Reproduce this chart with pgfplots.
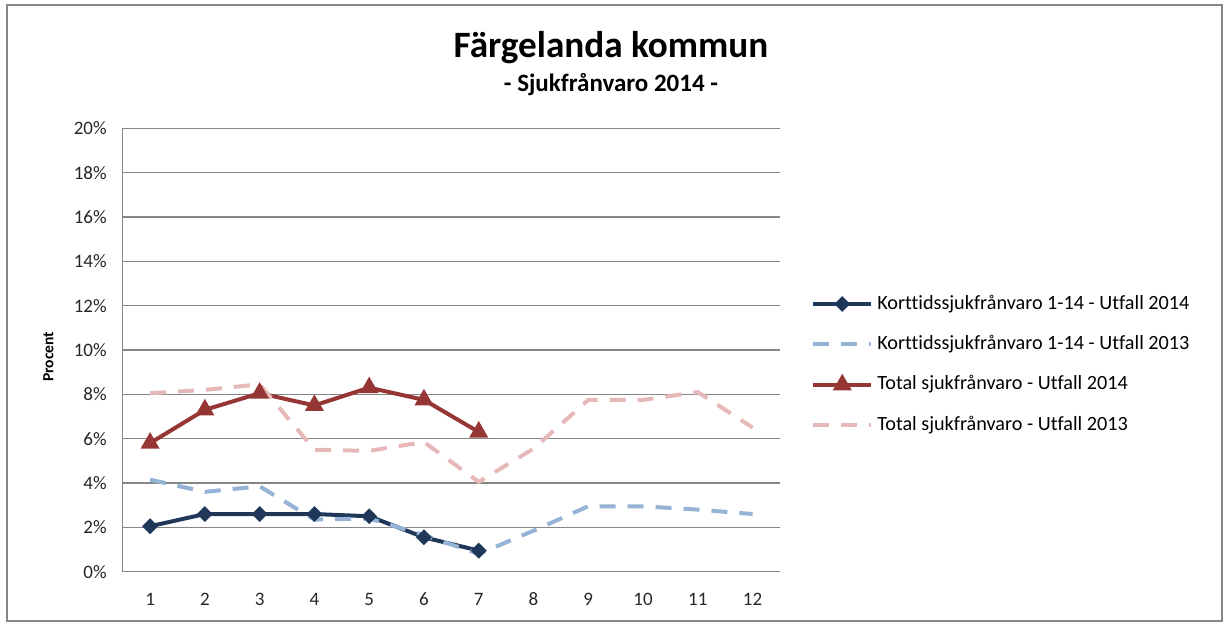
\documentclass[border=0pt]{standalone}
\usepackage{fontspec}
\setmainfont{Carlito}[Ligatures={NoCommon}]
\usepackage{pgfplots}
\pgfplotsset{compat=1.18}
\definecolor{navy}{RGB}{31,56,90}
\definecolor{lblue}{RGB}{149,179,215}
\definecolor{dred}{RGB}{150,54,52}
\definecolor{lpink}{RGB}{230,185,184}
\definecolor{gridgray}{RGB}{134,134,134}
\begin{document}
\begin{tikzpicture}
\useasboundingbox (-61.35pt,-26.15pt) rectangle (551.65pt,285.85pt);
\draw[gridgray,line width=0.6pt] (-57.85pt,-24.65pt) rectangle (549.65pt,283.35pt);
\begin{axis}[
  at={(0pt,0pt)}, anchor=south west,
  scale only axis, width=328.65pt, height=221.7pt,
  xmin=0.5, xmax=12.5, ymin=0, ymax=20,
  xtick={1,...,12}, ytick={0,2,...,20},
  axis x line*=bottom, axis y line*=left,
  axis line style={gridgray,line width=0.7pt,-},
  ymajorgrids, major grid style={gridgray,line width=0.6pt},
  major tick length=0pt,
  tick label style={font=\fontsize{9.5}{11}\selectfont, text=black!85},
  /pgf/number format/assume math mode=true,
  yticklabel={\pgfmathprintnumber{\tick}\%},
  yticklabel style={anchor=east, inner sep=0pt, xshift=-7.8pt},
  xticklabel style={anchor=base, inner sep=0pt, yshift=-17pt},
  clip=false,
  legend cell align=left,
  legend style={at={(1.047,0.467)}, anchor=west, draw=none, fill=none,
    font=\fontsize{10.1}{12}\selectfont, row sep=7.2pt, inner sep=0pt,
    nodes={inner sep=2pt, text height=7pt, text depth=2pt}},
  legend image code/.code={
    \draw[mark repeat=2,mark phase=2,#1] plot coordinates {(0pt,0pt) (14.5pt,0pt) (29pt,0pt)};
  },
]
\addplot[navy, line width=2pt, mark=square*, mark size=1.8pt, mark options={solid, rotate=45}]
  coordinates {(1,2.05)(2,2.6)(3,2.6)(4,2.6)(5,2.5)(6,1.55)(7,0.95)};
\addlegendentry{Korttidssjukfrånvaro 1-14 - Utfall 2014}
\addplot[lblue, line width=2pt, dash pattern=on 8pt off 6pt]
  coordinates {(1,4.15)(2,3.6)(3,3.85)(4,2.35)(5,2.4)(6,1.65)(7,0.8)(8,1.85)(9,2.95)(10,2.95)(11,2.8)(12,2.6)};
\addlegendentry{Korttidssjukfrånvaro 1-14 - Utfall 2013}
\addplot[dred, line width=2pt, mark=triangle*, mark size=3.5pt, mark options={solid}]
  coordinates {(1,5.8)(2,7.3)(3,8.05)(4,7.5)(5,8.3)(6,7.75)(7,6.3)};
\addlegendentry{Total sjukfrånvaro - Utfall 2014}
\addplot[lpink, line width=2pt, dash pattern=on 8pt off 6pt]
  coordinates {(1,8.05)(2,8.2)(3,8.45)(4,5.5)(5,5.45)(6,5.85)(7,4.05)(8,5.55)(9,7.75)(10,7.75)(11,8.1)(12,6.5)};
\addlegendentry{Total sjukfrånvaro - Utfall 2013}
\node[anchor=base, font=\bfseries\fontsize{18.6}{21}\selectfont] at ([xshift=244.15pt, yshift=256.85pt]rel axis cs:0,0) {Färgelanda kommun};
\node[anchor=base, font=\bfseries\fontsize{12.5}{14}\selectfont] at ([xshift=244.15pt, yshift=239.85pt]rel axis cs:0,0) {- Sjukfrånvaro 2014 -};
\node[rotate=90, font=\bfseries\fontsize{7.8}{9}\selectfont] at ([xshift=-37.1pt, yshift=107.5pt]rel axis cs:0,0) {Procent};
\end{axis}
\end{tikzpicture}
\end{document}
